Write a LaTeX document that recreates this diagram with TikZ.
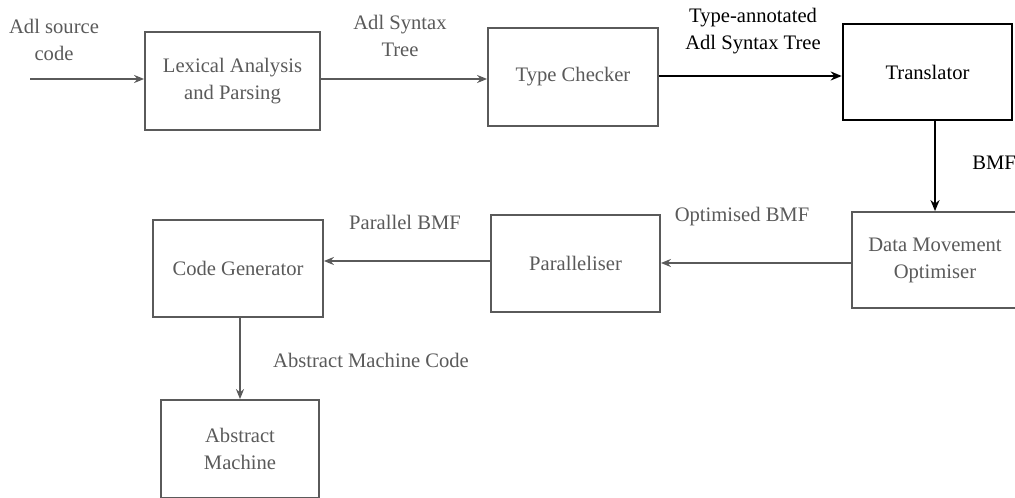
\documentclass[tikz,border=0pt]{standalone}
\usepackage{fontspec}
\setmainfont{Liberation Serif}
\usetikzlibrary{arrows.meta}
\definecolor{ink}{HTML}{5A5A5A}
\tikzset{
  stage/.style={draw=ink, line width=0.9pt, rectangle, inner sep=0pt,
    text=ink, align=center, font=\fontsize{10.3}{13.5}\selectfont},
  mainstage/.style={stage, draw=black, line width=1.3pt, text=black},
  lbl/.style={inner sep=0pt, text=ink, align=center, font=\fontsize{10.3}{13.5}\selectfont},
  mainlbl/.style={lbl, text=black},
  flow/.style={draw=ink, line width=0.9pt, -{Stealth[length=5pt,width=4pt]}},
  mainflow/.style={draw=black, line width=1.3pt, -{Stealth[length=5.5pt,width=4.5pt]}}
}
\begin{document}
\begin{tikzpicture}[x=0.5pt,y=-0.5pt]
\clip (0,0) rectangle (1015,497);
\fill[white] (0,0) rectangle (1015,497);

% processing stages
\node[stage, minimum width=87.5pt, minimum height=49pt] (lex) at (232.5,81) {Lexical Analysis\\and Parsing};
\node[stage, minimum width=85pt, minimum height=49pt] (tc) at (573,77) {Type Checker};
\node[mainstage, minimum width=84.5pt, minimum height=48pt] (tr) at (927.5,72) {Translator};
\node[stage, minimum width=83pt, minimum height=48pt] (dmo) at (935,260) {Data Movement\\Optimiser};
\node[stage, minimum width=84.5pt, minimum height=48.5pt] (par) at (575.5,263.5) {Paralleliser};
\node[stage, minimum width=85pt, minimum height=48.5pt] (cg) at (238,268.5) {Code Generator};
\node[stage, minimum width=79pt, minimum height=49pt] (am) at (240,449) {Abstract\\Machine};

% source input
\coordinate (src) at (30,79);

% connectors
\draw[flow] (src) -- (src -| lex.west);
\draw[flow] (lex.east |- 0,79) -- (tc.west |- 0,79);
\draw[mainflow] (tc.east |- 0,76) -- (tr.west |- 0,76);
\draw[mainflow] (dmo.north |- tr.south) -- (dmo.north);
\draw[flow] (dmo.west |- 0,263) -- (par.east |- 0,263);
\draw[flow] (par.west |- 0,261) -- (cg.east |- 0,261);
\draw[flow] (am.north |- cg.south) -- (am.north);

% labels
\node[lbl] (lsrc) at (54,40) {Adl source\\code};
\node[lbl] (last) at (400,36) {Adl Syntax\\Tree};
\node[mainlbl] (ltast) at (753,31) {Type-annotated\\Adl Syntax Tree};
\node[mainlbl, anchor=west] (lbmf) at (972,163) {BMF};
\node[lbl] (lopt) at (742,217) {Optimised BMF};
\node[lbl] (lpar) at (405,222) {Parallel BMF};
\node[lbl] (lamc) at (371,360) {Abstract Machine Code};
\end{tikzpicture}
\end{document}
